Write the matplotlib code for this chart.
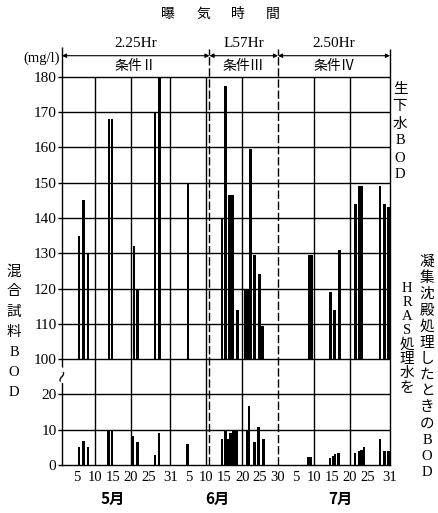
import numpy as np
import matplotlib
matplotlib.use("Agg")
import matplotlib.pyplot as plt

# day index: May 1 = 1 ... May 31 = 31, June 30 = 61, July 31 = 92
raw_days = [5.6, 6.8, 8.0, 13.9, 14.8, 20.8, 21.9, 26.7, 27.9, 35.9,
            45.4, 46.4, 47.5, 48.3, 49.7, 51.9, 52.6, 53.3, 54.4, 55.8, 56.7,
            69.7, 70.4, 75.6, 76.7, 78.1, 82.6, 83.5, 84.3, 89.4, 90.7, 91.8]
raw_bod = [135, 145, 130, 168, 168, 132, 120, 170, 180, 150,
           140, 177.5, 146.5, 146.5, 114, 119.5, 119.5, 159.5, 129.5, 124, 109.5,
           129.5, 129.5, 119, 114, 131, 144, 149, 149, 149, 144, 143]

treated_days = [5.6, 6.8, 8.1, 13.7, 14.8, 20.6, 21.9, 26.7, 27.8, 35.8,
                45.4, 46.3, 47.2, 47.8, 48.4, 49.1, 49.6, 52.3, 52.9, 54.4, 55.6, 57.0,
                69.4, 70.0, 75.5, 76.4, 76.9, 77.9, 82.4, 83.6, 84.3, 85.0,
                89.4, 90.6, 91.8]
treated_bod = [5.1, 6.9, 5.1, 10, 10, 8.3, 6.6, 2.8, 9.1, 5.9,
               7.5, 9.8, 7.5, 9, 10, 10, 10, 10, 16.7, 6.5, 10.7, 7.5,
               2.2, 2.2, 1.9, 2.5, 3.2, 3.5, 3.5, 4, 4.3, 5,
               7.5, 4, 4]

tick_days = [5, 10, 15, 20, 25, 31, 36, 41, 46, 51, 56, 61, 66, 71, 76, 81, 86, 92]
tick_labels = ["5", "10", "15", "20", "25", "31", "5", "10", "15", "20", "25",
               "30", "5", "10", "15", "20", "25", "31"]
grid_days = [10, 20, 31, 41, 51, 71, 81]
upper_ticks = [100, 110, 120, 130, 140, 150, 160, 170, 180]
lower_ticks = [0, 10, 20]
cond_bounds = [0.8, 41.9, 61, 92.2]
conditions = ["条件Ⅱ", "条件Ⅲ", "条件Ⅳ"]
aeration = ["2.25Hr", "L57Hr", "2.50Hr"]
months = ["5月", "6月", "7月"]
month_days = [15, 44, 78.5]

W, H = 439, 513
CJK = ["Noto Sans CJK JP", "DejaVu Sans"]
SERIF = ["Liberation Serif", "Noto Sans CJK JP"]


def fwd(v):
    # broken axis: 0-20 normal, 20-100 squeezed, 100+ shifted down
    v = np.asarray(v, float)
    return np.where(v <= 20, v, np.where(v < 100, 20 + (v - 20) / 8, v - 70))


def inv(u):
    u = np.asarray(u, float)
    return np.where(u <= 20, u, np.where(u < 30, 20 + (u - 20) * 8, u + 70))


fig = plt.figure(figsize=(W / 100, H / 100), dpi=100)
ax = fig.add_axes([62 / W, 1 - 465 / H, 328 / W, 410 / H])
ax.set_yscale("function", functions=(fwd, inv))
ax.set_xlim(cond_bounds[0], cond_bounds[-1])
ax.set_ylim(0, 186.2)

lw = 1.0
# grid
for y in upper_ticks + lower_ticks[1:]:
    ax.hlines(y, cond_bounds[0], cond_bounds[-1], color="black", lw=lw)
ax.vlines(grid_days, 0, 180, color="black", lw=lw)
for xb in cond_bounds[1:-1]:
    ax.vlines(xb, 0, 186.2, color="black", lw=lw, linestyles=(0, (6, 2)))
    ax.vlines(xb, 186.2, 187.8, color="black", lw=lw, clip_on=False)
ax.vlines(cond_bounds[-1], 186.2, 187.8, color="black", lw=lw, clip_on=False)
ax.vlines(cond_bounds[0], 186.2, 188.5, color="black", lw=lw, clip_on=False)

# bars
ax.bar(raw_days, np.array(raw_bod) - 100, bottom=100, width=0.7,
       color="black", zorder=3)
ax.bar(treated_days, treated_bod, width=0.7, color="black", zorder=3)

# header
for i in range(3):
    a, b = cond_bounds[i], cond_bounds[i + 1]
    ax.annotate("", xy=(a, 186), xytext=(b, 186),
                arrowprops=dict(arrowstyle="<|-|>", lw=0.8, color="black",
                                mutation_scale=6, shrinkA=0, shrinkB=0),
                annotation_clip=False)
    ax.text((a + b) / 2, 183, conditions[i], ha="center", va="center",
            fontsize=10, family=CJK)
    ax.text((a + b) / 2, 189.6, aeration[i], ha="center", va="center",
            fontsize=11, family=SERIF)

for sp in ["top"]:
    ax.spines[sp].set_visible(False)
for sp in ["left", "right", "bottom"]:
    ax.spines[sp].set_linewidth(lw)

ax.set_yticks(lower_ticks + upper_ticks)
ax.set_yticklabels([str(v) for v in lower_ticks + upper_ticks],
                   family=SERIF, fontsize=11)
ax.tick_params(axis="y", length=3, width=lw, pad=1)
ax.set_xticks(tick_days)
ax.set_xticklabels(tick_labels, family=SERIF, fontsize=10.5)
ax.tick_params(axis="x", length=0, pad=4)

# break mark on the y axis
ax.text(cond_bounds[0], 64, "~", rotation=65, ha="center", va="center",
        fontsize=12, family="DejaVu Sans", clip_on=False,
        bbox=dict(facecolor="white", edgecolor="none", pad=0))

for x, m in zip(month_days, months):
    ax.text(x, -9.5, m, ha="center", va="center", fontsize=11,
            fontweight="bold", family=CJK)

fig.text(60 / W, 1 - 58 / H, "(mg/l)", ha="right", va="center",
         fontsize=10.5, family=SERIF)

for i, ch in enumerate("曝気時間"):
    fig.text((168 + i * 35) / W, 1 - 14 / H, ch, ha="center", va="center",
             fontsize=10, family=CJK)


def vtext(x, y0, s, step):
    for i, ch in enumerate(s):
        fig.text(x / W, 1 - (y0 + i * step) / H, ch, ha="center",
                 va="center", fontsize=10.5, family=SERIF)


vtext(14, 272, "混合試料BOD", 20)
vtext(400, 90, "生下水BOD", 17)
vtext(407, 288, "HRAS処理水を", 14.3)
vtext(427, 262, "凝集沈殿処理したときのBOD", 16.2)

fig.savefig("out.png", dpi=100)
